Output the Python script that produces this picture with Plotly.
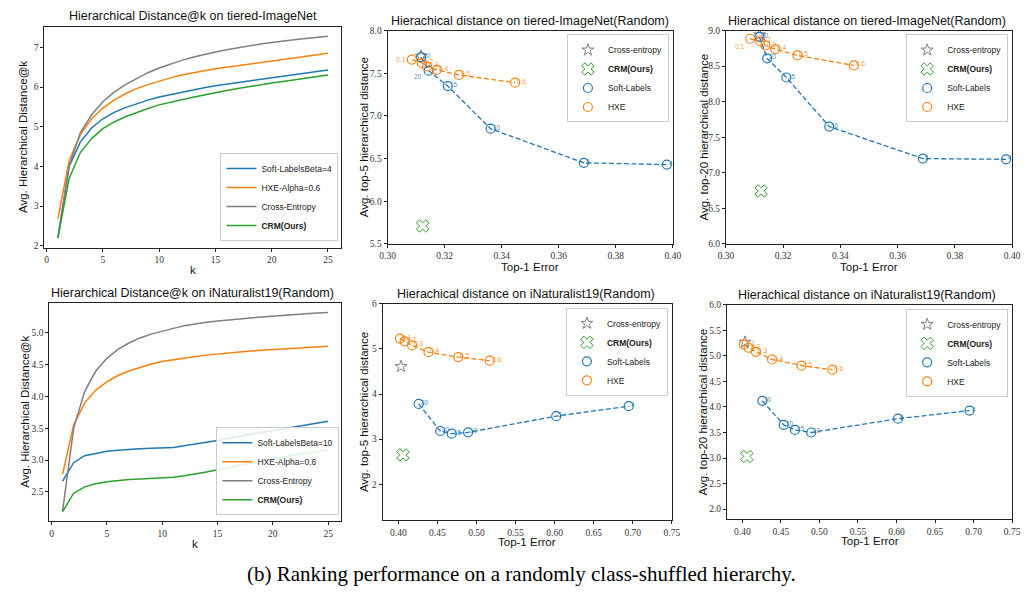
import plotly.graph_objects as go

# ---------------- data ----------------
k_vals = list(range(1, 26))

# tiered-ImageNet Hierarchical Distance@k
tiered_soft = [2.2, 4.0, 4.62, 4.97, 5.2, 5.36, 5.48, 5.58, 5.67, 5.75, 5.81, 5.87, 5.93, 5.98, 6.03,
               6.07, 6.11, 6.15, 6.19, 6.23, 6.27, 6.31, 6.35, 6.39, 6.43]
tiered_hxe = [2.68, 4.15, 4.8, 5.2, 5.47, 5.67, 5.83, 5.96, 6.06, 6.15, 6.23, 6.3, 6.36, 6.41, 6.46,
              6.5, 6.54, 6.58, 6.62, 6.66, 6.69, 6.73, 6.77, 6.81, 6.85]
tiered_ce = [2.2, 4.02, 4.85, 5.3, 5.63, 5.87, 6.06, 6.22, 6.36, 6.48, 6.58, 6.67, 6.75, 6.82, 6.88,
             6.94, 6.99, 7.04, 7.08, 7.12, 7.16, 7.19, 7.22, 7.25, 7.28]
tiered_crm = [2.2, 3.7, 4.35, 4.7, 4.95, 5.12, 5.25, 5.36, 5.46, 5.55, 5.62, 5.68, 5.74, 5.8, 5.86,
              5.91, 5.96, 6.01, 6.06, 6.1, 6.14, 6.18, 6.22, 6.26, 6.3]

# iNaturalist19 Hierarchical Distance@k
inat_soft = [2.67, 2.96, 3.07, 3.11, 3.14, 3.155, 3.17, 3.18, 3.185, 3.19, 3.2, 3.225, 3.25, 3.28, 3.31,
             3.345, 3.375, 3.405, 3.435, 3.465, 3.495, 3.52, 3.545, 3.575, 3.61]
inat_hxe = [2.78, 3.55, 3.9, 4.1, 4.23, 4.33, 4.4, 4.46, 4.51, 4.55, 4.58, 4.61, 4.63, 4.65, 4.67,
            4.685, 4.7, 4.715, 4.725, 4.735, 4.745, 4.755, 4.765, 4.775, 4.79]
inat_ce = [2.2, 3.5, 4.08, 4.4, 4.6, 4.74, 4.84, 4.92, 4.98, 5.03, 5.07, 5.11, 5.14, 5.165, 5.185,
           5.205, 5.22, 5.235, 5.25, 5.265, 5.28, 5.29, 5.30, 5.31, 5.32]
inat_crm = [2.19, 2.48, 2.58, 2.63, 2.66, 2.68, 2.695, 2.705, 2.71, 2.72, 2.73, 2.755, 2.78, 2.815, 2.85,
            2.885, 2.92, 2.955, 2.99, 3.02, 3.05, 3.08, 3.105, 3.13, 3.16]

# scatter: tiered-ImageNet
soft_labels = ["30", "20", "15", "10", "5", "4"]
hxe_labels = ["0.1", "0.2", "0.3", "0.4", "0.5", "0.6"]

tiered_soft_err = [0.3117, 0.3144, 0.3211, 0.3361, 0.3688, 0.3979]
tiered_soft_top5 = [7.69, 7.53, 7.35, 6.85, 6.45, 6.43]
tiered_soft_top20 = [8.91, 8.61, 8.34, 7.65, 7.20, 7.19]
tiered_hxe_err = [0.3085, 0.3120, 0.3138, 0.3172, 0.3250, 0.3447]
tiered_hxe_top5 = [7.66, 7.62, 7.58, 7.54, 7.48, 7.39]
tiered_hxe_top20 = [8.885, 8.85, 8.79, 8.74, 8.65, 8.51]
tiered_ce_err = [0.3117]
tiered_ce_top5 = [7.70]
tiered_ce_top20 = [8.94]
tiered_crm_err = [0.3123]
tiered_crm_top5 = [5.71]
tiered_crm_top20 = [6.745]

# scatter: iNaturalist19
inat_soft_err = [0.426, 0.4536, 0.4683, 0.4893, 0.602, 0.6947]
inat_soft_top5 = [3.78, 3.18, 3.12, 3.15, 3.51, 3.73]
inat_soft_top20 = [4.12, 3.65, 3.55, 3.50, 3.77, 3.93]
inat_hxe_err = [0.402, 0.408, 0.4176, 0.4386, 0.4767, 0.5169]
inat_hxe_top5 = [5.23, 5.17, 5.08, 4.93, 4.82, 4.74]
inat_hxe_top20 = [5.22, 5.16, 5.08, 4.93, 4.81, 4.73]
inat_ce_err = [0.4034]
inat_ce_top5 = [4.61]
inat_ce_top20 = [5.27]
inat_crm_err = [0.4059]
inat_crm_top5 = [2.65]
inat_crm_top20 = [3.03]

# ---------------- styling ----------------
C_BLUE = "#1f77b4"
C_ORANGE = "#ff7f0e"
C_GREEN = "#2ca02c"
C_GRAY = "#7f7f7f"
SANS = "Liberation Sans"
SERIF = "Liberation Serif"

W, H = 1029, 598


def px(x):
    return x / W


def py(y):
    return 1 - y / H


fig = go.Figure()

# axes frames (pixel boxes: left, right, top, bottom)
boxes = {
    1: (37, 339, 22, 247),
    2: (386, 676, 26, 243),
    3: (730, 1021, 26, 243),
    4: (42, 339, 303, 525),
    5: (381, 675, 304, 524),
    6: (731, 1021, 305, 523),
}
ranges = {
    1: ([-0.2, 26.2], [1.95, 7.52]),
    2: ([0.30, 0.40], [5.5, 8.0]),
    3: ([0.30, 0.40], [6.0, 9.0]),
    4: ([-0.2, 26.2], [2.04, 5.47]),
    5: ([0.38, 0.75], [1.2, 6.0]),
    6: ([0.38, 0.75], [1.8, 6.0]),
}
xticks = {
    1: ([0, 5, 10, 15, 20, 25], None),
    2: ([0.30, 0.32, 0.34, 0.36, 0.38, 0.40], ".2f"),
    3: ([0.30, 0.32, 0.34, 0.36, 0.38, 0.40], ".2f"),
    4: ([0, 5, 10, 15, 20, 25], None),
    5: ([0.40, 0.45, 0.50, 0.55, 0.60, 0.65, 0.70, 0.75], ".2f"),
    6: ([0.40, 0.45, 0.50, 0.55, 0.60, 0.65, 0.70, 0.75], ".2f"),
}
yticks = {
    1: ([2, 3, 4, 5, 6, 7], None),
    2: ([5.5, 6.0, 6.5, 7.0, 7.5, 8.0], ".1f"),
    3: ([6.0, 6.5, 7.0, 7.5, 8.0, 8.5, 9.0], ".1f"),
    4: ([2.5, 3.0, 3.5, 4.0, 4.5, 5.0], ".1f"),
    5: ([2, 3, 4, 5, 6], None),
    6: ([2.0, 2.5, 3.0, 3.5, 4.0, 4.5, 5.0, 5.5, 6.0], ".1f"),
}

layout_axes = {}
for i in range(1, 7):
    l, r, t, b = boxes[i]
    common = dict(showline=True, linecolor="#222", linewidth=1, mirror=True, ticks="outside",
                  ticklen=3, tickwidth=1, tickcolor="#222", showgrid=False, zeroline=False,
                  tickfont=dict(family=SERIF, size=9.5, color="#333"))
    xa = dict(domain=[px(l), px(r)], range=ranges[i][0], anchor=f"y{i}", tickvals=xticks[i][0], **common)
    if xticks[i][1]:
        xa["tickformat"] = xticks[i][1]
    ya = dict(domain=[py(b), py(t)], range=ranges[i][1], anchor=f"x{i}", tickvals=yticks[i][0], **common)
    if yticks[i][1]:
        ya["tickformat"] = yticks[i][1]
    suffix = "" if i == 1 else str(i)
    layout_axes["xaxis" + suffix] = xa
    layout_axes["yaxis" + suffix] = ya


def ax(i):
    return ("x" if i == 1 else f"x{i}"), ("y" if i == 1 else f"y{i}")


def lg(i):
    return "legend" if i == 1 else f"legend{i}"


# ---- line plots ----
for i, (soft, hxe, ce, crm, beta) in {
    1: (tiered_soft, tiered_hxe, tiered_ce, tiered_crm, "4"),
    4: (inat_soft, inat_hxe, inat_ce, inat_crm, "10"),
}.items():
    xa, ya = ax(i)
    for ys, name, col in [(soft, f"Soft-LabelsBeta={beta}", C_BLUE),
                          (hxe, "HXE-Alpha=0.6", C_ORANGE),
                          (ce, "Cross-Entropy", C_GRAY),
                          (crm, "<b>CRM(Ours)</b>", C_GREEN)]:
        fig.add_trace(go.Scatter(x=k_vals, y=ys, mode="lines", name=name, xaxis=xa, yaxis=ya,
                                 line=dict(color=col, width=1.5), legend=lg(i)))

# ---- scatter plots ----
scatter_sets = {
    2: (tiered_ce_err, tiered_ce_top5, tiered_crm_err, tiered_crm_top5,
        tiered_soft_err, tiered_soft_top5, tiered_hxe_err, tiered_hxe_top5),
    3: (tiered_ce_err, tiered_ce_top20, tiered_crm_err, tiered_crm_top20,
        tiered_soft_err, tiered_soft_top20, tiered_hxe_err, tiered_hxe_top20),
    5: (inat_ce_err, inat_ce_top5, inat_crm_err, inat_crm_top5,
        inat_soft_err, inat_soft_top5, inat_hxe_err, inat_hxe_top5),
    6: (inat_ce_err, inat_ce_top20, inat_crm_err, inat_crm_top20,
        inat_soft_err, inat_soft_top20, inat_hxe_err, inat_hxe_top20),
}
annotations = []
# special label offsets: (subplot, series, index) -> (xanchor, yanchor, xshift, yshift)
special = {
    (2, "hxe", 0): ("right", "middle", -5, 0),
    (2, "soft", 1): ("right", "top", -5, 0),
    (3, "hxe", 0): ("right", "top", -4, -2),
}
for i, (ce_x, ce_y, crm_x, crm_y, s_x, s_y, h_x, h_y) in scatter_sets.items():
    xa, ya = ax(i)
    fig.add_trace(go.Scatter(x=s_x, y=s_y, mode="lines", xaxis=xa, yaxis=ya, showlegend=False,
                             line=dict(color=C_BLUE, width=1.3, dash="5px,2.5px")))
    fig.add_trace(go.Scatter(x=h_x, y=h_y, mode="lines", xaxis=xa, yaxis=ya, showlegend=False,
                             line=dict(color=C_ORANGE, width=1.3, dash="5px,2.5px")))
    fig.add_trace(go.Scatter(x=ce_x, y=ce_y, mode="markers", name="Cross-entropy", xaxis=xa, yaxis=ya,
                             marker=dict(symbol="star-open", size=9, color=C_GRAY, line=dict(width=1)),
                             legend=lg(i)))
    fig.add_trace(go.Scatter(x=crm_x, y=crm_y, mode="markers", name="<b>CRM(Ours)</b>", xaxis=xa, yaxis=ya,
                             marker=dict(symbol="x-open", size=11, color=C_GREEN, line=dict(width=1)),
                             legend=lg(i)))
    fig.add_trace(go.Scatter(x=s_x, y=s_y, mode="markers", name="Soft-Labels", xaxis=xa, yaxis=ya,
                             marker=dict(symbol="circle-open", size=9, color=C_BLUE, line=dict(width=1.2)),
                             legend=lg(i)))
    fig.add_trace(go.Scatter(x=h_x, y=h_y, mode="markers", name="HXE", xaxis=xa, yaxis=ya,
                             marker=dict(symbol="circle-open", size=9, color=C_ORANGE, line=dict(width=1.2)),
                             legend=lg(i)))
    for series, xs, ys, labels, col in [("soft", s_x, s_y, soft_labels, "rgba(31,119,180,0.85)"),
                                        ("hxe", h_x, h_y, hxe_labels, "rgba(255,127,14,0.85)")]:
        for j, (xv, yv, lab) in enumerate(zip(xs, ys, labels)):
            xanc, yanc, xs_, ys_ = special.get((i, series, j), ("left", "bottom", 0, -4))
            annotations.append(dict(x=xv, y=yv, xref=xa, yref=ya, text=lab, showarrow=False,
                                    xanchor=xanc, yanchor=yanc, xshift=xs_, yshift=ys_,
                                    font=dict(family=SANS, size=6.5, color=col)))

# ---- titles & axis labels ----
titles = {
    1: ("Hierarchical Distance@k on tiered-ImageNet", 188, 11),
    2: ("Hierachical distance on tiered-ImageNet(Random)", 531, 16),
    3: ("Hierachical distance on tiered-ImageNet(Random)", 873, 16),
    4: ("Hierarchical Distance@k on iNaturalist19(Random)", 188, 293),
    5: ("Hierachical distance on iNaturalist19(Random)", 527, 294),
    6: ("Hierachical distance on iNaturalist19(Random)", 873, 295),
}
xlabels = {1: ("k", 269), 2: ("Top-1 Error", 266), 3: ("Top-1 Error", 266),
           4: ("k", 548), 5: ("Top-1 Error", 546), 6: ("Top-1 Error", 545)}
ylabels = {1: ("Avg. Hierarchical Distance@k", 16), 2: ("Avg. top-5 hierarchical distance", 362),
           3: ("Avg. top-20 hierarchical distance", 708), 4: ("Avg. Hierarchical Distance@k", 17),
           5: ("Avg. top-5 hierarchical distance", 362), 6: ("Avg. top-20 hierarchical distance", 707)}
for i in range(1, 7):
    l, r, t, b = boxes[i]
    txt, cx, cy = titles[i]
    annotations.append(dict(x=px(cx), y=py(cy), xref="paper", yref="paper", text=txt, showarrow=False,
                            xanchor="center", yanchor="middle", font=dict(family=SANS, size=12.5, color="#111")))
    txt, cy = xlabels[i]
    annotations.append(dict(x=px((l + r) / 2), y=py(cy), xref="paper", yref="paper", text=txt, showarrow=False,
                            xanchor="center", yanchor="middle", font=dict(family=SANS, size=11.5, color="#111")))
    txt, cx = ylabels[i]
    annotations.append(dict(x=px(cx), y=py((t + b) / 2), xref="paper", yref="paper", text=txt, showarrow=False,
                            xanchor="center", yanchor="middle", textangle=-90,
                            font=dict(family=SANS, size=11.5, color="#111")))

annotations.append(dict(x=px(522), y=py(579), xref="paper", yref="paper",
                        text="(b) Ranking performance on a randomly class-shuffled hierarchy.",
                        showarrow=False, xanchor="center", yanchor="middle",
                        font=dict(family=SERIF, size=21, color="#000")))

# ---- legends ----
# (right edge px, anchor y px, vertical anchor)
legend_pos = {1: (336, 240, "bottom"), 2: (672, 30, "top"), 3: (1017, 30, "top"),
              4: (337, 519, "bottom"), 5: (671, 308, "top"), 6: (1017, 309, "top")}
legends = {}
for i, (rx, yy, yanc) in legend_pos.items():
    legends[lg(i)] = dict(x=px(rx), y=py(yy), xanchor="right", yanchor=yanc, xref="paper", yref="paper",
                          bgcolor="rgba(255,255,255,0.85)", bordercolor="#ccc", borderwidth=1,
                          font=dict(family=SANS, size=8.5, color="#222"), tracegroupgap=0,
                          itemwidth=30)

fig.update_layout(width=W, height=H, margin=dict(l=0, r=0, t=0, b=0), plot_bgcolor="white",
                  paper_bgcolor="white", annotations=annotations, **layout_axes, **legends)

fig.write_html("out.html", config={"displayModeBar": False},
               post_script="document.body.style.margin='0';document.body.style.padding='0';")
